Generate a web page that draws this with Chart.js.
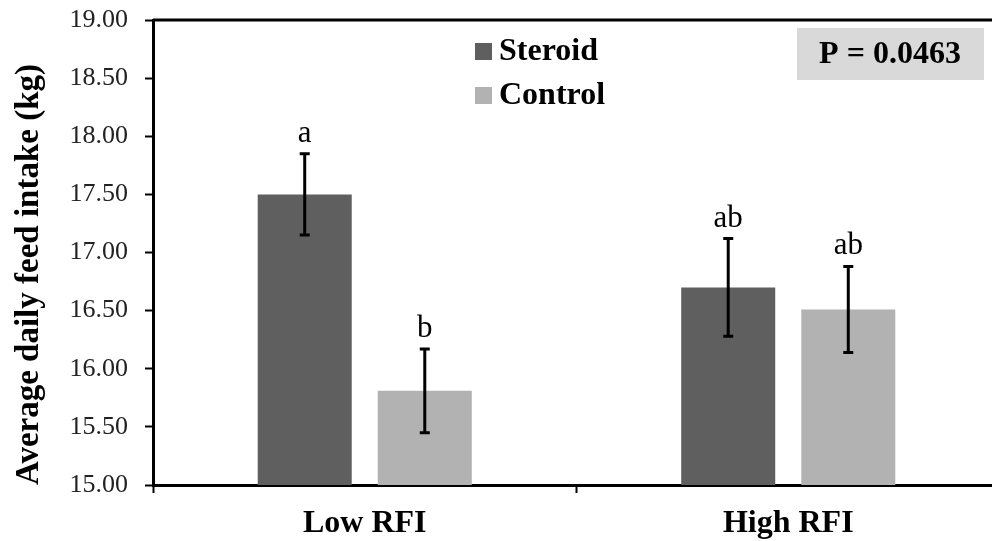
<!DOCTYPE html>
<html>
<head>
<meta charset="utf-8">
<script src="https://cdn.jsdelivr.net/npm/chart.js@4.4.1/dist/chart.umd.min.js"></script>
<style>
  body { margin: 0; background: #fff; }
  #chartBox { width: 992px; height: 541px; overflow: hidden; position: relative; }
  #myChart { display: block; }
</style>
</head>
<body>
<div id="chartBox">
  <canvas id="myChart" width="1000" height="541"></canvas>
</div>
<script>
// groups and treatments
const groups = ["Low RFI", "High RFI"];
const treatments = ["Steroid", "Control"];

// mean daily intake (kg) per treatment, one value per group
const steroidMeans = [17.50, 16.70];
const controlMeans = [15.81, 16.51];

// standard errors
const steroidErr = [0.35, 0.42];
const controlErr = [0.36, 0.37];

// significance letters above each bar
const steroidLetters = ["a", "ab"];
const controlLetters = ["b", "ab"];

const yTicks = [15.00, 15.50, 16.00, 16.50, 17.00, 17.50, 18.00, 18.50, 19.00];
const pValueText = "P = 0.0463";

const colors = ["#5f5f5f", "#b2b2b2"];
const serif = "'Liberation Serif', 'Times New Roman', serif";

// error bars + letters, drawn from the bar data
const errorBarPlugin = {
    id: "errorBars",
    afterDatasetsDraw(chart) {
        const ctx = chart.ctx;
        const yScale = chart.scales.y;
        chart.data.datasets.forEach((ds, i) => {
            const meta = chart.getDatasetMeta(i);
            meta.data.forEach((bar, j) => {
                const v = ds.data[j];
                const e = ds.errors[j];
                const yTop = yScale.getPixelForValue(v + e);
                const yBot = yScale.getPixelForValue(v - e);
                const x = bar.x;
                ctx.save();
                ctx.strokeStyle = "#000";
                ctx.lineWidth = 3;
                ctx.beginPath();
                ctx.moveTo(x, yTop);
                ctx.lineTo(x, yBot);
                ctx.moveTo(x - 5, yTop);
                ctx.lineTo(x + 5, yTop);
                ctx.moveTo(x - 5, yBot);
                ctx.lineTo(x + 5, yBot);
                ctx.stroke();

                ctx.fillStyle = "#000";
                ctx.font = "31px " + serif;
                ctx.textAlign = "center";
                ctx.textBaseline = "alphabetic";
                ctx.fillText(ds.letters[j], x, yTop - 12);
                ctx.restore();
            });
        });
    }
};

// frame line on top, legend and the P value box
const extrasPlugin = {
    id: "extras",
    afterDraw(chart) {
        const ctx = chart.ctx;
        const area = chart.chartArea;
        ctx.save();
        ctx.strokeStyle = "#000";
        ctx.lineWidth = 3;
        ctx.beginPath();
        ctx.moveTo(area.left, area.top);
        ctx.lineTo(chart.width, area.top);
        ctx.stroke();

        // legend
        ctx.font = "bold 32px " + serif;
        ctx.textAlign = "left";
        ctx.textBaseline = "middle";
        chart.data.datasets.forEach((ds, i) => {
            const cy = area.top + 31 + i * 44;
            ctx.fillStyle = ds.backgroundColor;
            ctx.fillRect(475, cy - 8, 17, 17);
            ctx.fillStyle = "#000";
            ctx.fillText(ds.label, 499, cy + 1);
        });

        // P value box
        ctx.fillStyle = "#d9d9d9";
        ctx.fillRect(797, area.top + 8, 187, 52);
        ctx.fillStyle = "#000";
        ctx.font = "bold 32px " + serif;
        ctx.textAlign = "center";
        ctx.fillText(pValueText, 890, area.top + 35);
        ctx.restore();
    }
};

const data = {
    labels: groups,
    datasets: [{
        label: treatments[0],
        data: steroidMeans,
        errors: steroidErr,
        letters: steroidLetters,
        backgroundColor: colors[0],
        borderWidth: 0
    }, {
        label: treatments[1],
        data: controlMeans,
        errors: controlErr,
        letters: controlLetters,
        backgroundColor: colors[1],
        borderWidth: 0
    }]
};

const config = {
    type: "bar",
    data: data,
    options: {
        responsive: false,
        animation: false,
        devicePixelRatio: 1,
        layout: { padding: { top: 20, right: 0, left: 0, bottom: 0 } },
        datasets: {
            bar: { categoryPercentage: 0.567, barPercentage: 0.783 }
        },
        plugins: {
            legend: { display: false },
            tooltip: { enabled: false }
        },
        scales: {
            x: {
                afterFit: (scale) => {
                    scale.height = 56;
                    scale.paddingLeft = 0;
                    scale.paddingRight = 0;
                },
                grid: {
                    offset: true,
                    drawOnChartArea: false,
                    tickLength: 8,
                    tickWidth: 2,
                    tickColor: "#000"
                },
                border: { color: "#000", width: 3 },
                ticks: {
                    color: "#000",
                    padding: 12,
                    font: { family: serif, size: 32, weight: "bold" }
                }
            },
            y: {
                min: 15,
                max: 19,
                afterFit: (scale) => {
                    scale.width = 153;
                    scale.paddingTop = 0;
                    scale.paddingBottom = 0;
                },
                afterBuildTicks: (scale) => {
                    scale.ticks = yTicks.map(v => ({ value: v }));
                },
                grid: {
                    drawOnChartArea: false,
                    tickLength: 8,
                    tickWidth: 2,
                    tickColor: "#000"
                },
                border: { color: "#000", width: 3 },
                ticks: {
                    color: "#222",
                    padding: 17,
                    font: { family: serif, size: 26 },
                    callback: (v) => Number(v).toFixed(2)
                },
                title: {
                    display: true,
                    text: "Average daily feed intake (kg)",
                    color: "#000",
                    align: "start",
                    padding: { top: 10, bottom: 0 },
                    font: { family: serif, size: 33, weight: "bold" }
                }
            }
        }
    },
    plugins: [errorBarPlugin, extrasPlugin]
};

new Chart(document.getElementById("myChart"), config);
</script>
</body>
</html>
